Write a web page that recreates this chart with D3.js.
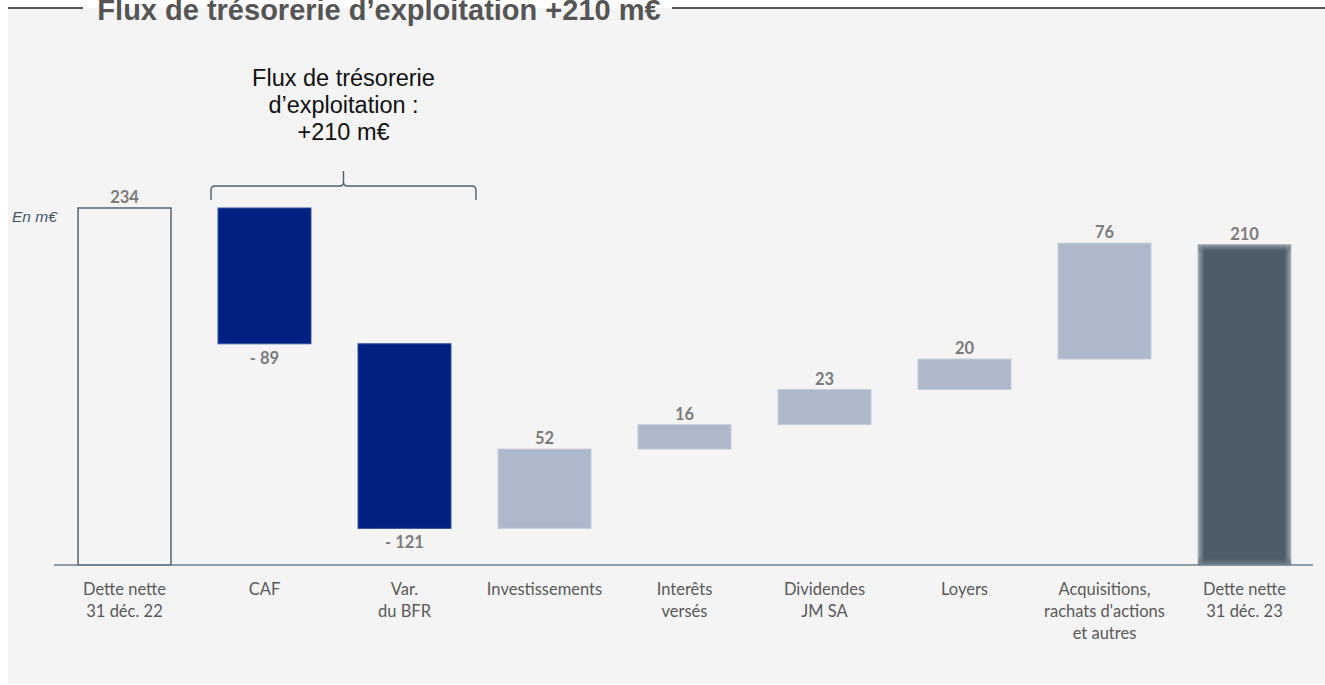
<!DOCTYPE html>
<html><head><meta charset="utf-8">
<script src="https://cdn.jsdelivr.net/npm/d3@7"></script>
<style>
html,body{margin:0;padding:0;background:#fff;}
svg{display:block;}
</style></head>
<body>
<svg id="chart" width="1325" height="685"></svg>
<script>
// ---- data ----
const categories = [
  ["Dette nette","31 déc. 22"],
  ["CAF"],
  ["Var.","du BFR"],
  ["Investissements"],
  ["Interêts","versés"],
  ["Dividendes","JM SA"],
  ["Loyers"],
  ["Acquisitions,","rachats d'actions","et autres"],
  ["Dette nette","31 déc. 23"]
];
const changes = [234, -89, -121, 52, 16, 23, 20, 76, 210];
const kinds = ["start","op","op","flow","flow","flow","flow","flow","total"];
const valueLabels = ["234","- 89","- 121","52","16","23","20","76","210"];
const titleText = "Flux de trésorerie d’exploitation +210 m€";
const noteLines = ["Flux de trésorerie","d’exploitation :","+210 m€"];
const unitLabel = "En m€";

// ---- build waterfall ----
let run = 0;
const bars = changes.map((v,i)=>{
  let y0,y1;
  if(kinds[i]==="start"||kinds[i]==="total"){ y0=0; y1=v; run=v; }
  else { y0=run; y1=run+v; run=y1; }
  return {i, v, kind:kinds[i], lo:Math.min(y0,y1), hi:Math.max(y0,y1), label:valueLabels[i], cat:categories[i]};
});

const svg = d3.select("#chart");
// panel
svg.append("rect").attr("x",8).attr("y",8).attr("width",1317).attr("height",676).attr("fill","#f4f4f4");

const x = d3.scaleBand().domain(d3.range(categories.length)).range([54.5,1314.5]).paddingInner(0.336).paddingOuter(0.168);
const y = d3.scaleLinear().domain([0,234]).range([565,208]);

const defs = svg.append("defs");
const g1 = defs.append("linearGradient").attr("id","gh").attr("x1","0").attr("x2","1").attr("y1","0").attr("y2","0");
[[0,"#9aa5ae"],[0.07,"#4c5c68"],[0.93,"#4c5c68"],[1,"#9aa5ae"]].forEach(s=>g1.append("stop").attr("offset",s[0]).attr("stop-color",s[1]));
const g2 = defs.append("linearGradient").attr("id","gv").attr("x1","0").attr("x2","0").attr("y1","0").attr("y2","1");
[[0,"#9aa5ae",1],[0.025,"#4c5c68",0],[0.975,"#4c5c68",0],[1,"#7d8994",1]].forEach(s=>g2.append("stop").attr("offset",s[0]).attr("stop-color",s[1]).attr("stop-opacity",s[2]));

const fills = {start:"none", op:"#002082", flow:"#adb9cb", total:"url(#gh)"};
const strokes = {start:"#5d6d7a", op:"#3350a0", flow:"#c4cdda", total:"#b3bcc4"};

svg.append("g").selectAll("rect.bar").data(bars).join("rect")
  .attr("class","bar")
  .attr("x",d=>x(d.i)).attr("width",x.bandwidth())
  .attr("y",d=>y(d.hi)).attr("height",d=>y(d.lo)-y(d.hi))
  .attr("fill",d=>fills[d.kind])
  .attr("stroke",d=>strokes[d.kind])
  .attr("stroke-width",d=>d.kind==="start"?1.6:1);
// vertical glow on total bar
svg.append("g").selectAll("rect.glow").data(bars.filter(d=>d.kind==="total")).join("rect")
  .attr("x",d=>x(d.i)).attr("width",x.bandwidth())
  .attr("y",d=>y(d.hi)).attr("height",d=>y(d.lo)-y(d.hi))
  .attr("fill","url(#gv)");

// baseline
svg.append("line").attr("x1",54).attr("x2",1313).attr("y1",y(0)).attr("y2",y(0))
  .attr("stroke","#6f7f8d").attr("stroke-width",1.6);

// value labels
svg.append("g").selectAll("text").data(bars).join("text")
  .attr("x",d=>x(d.i)+x.bandwidth()/2)
  .attr("y",d=> d.kind==="op" ? y(d.lo)+20 : y(d.hi)-5)
  .attr("text-anchor","middle")
  .attr("font-family","Lato, 'Open Sans', sans-serif").attr("font-weight","bold")
  .attr("font-size",16.5).attr("fill","#7b7b7b")
  .text(d=>d.label);

// category labels
const cl = svg.append("g").selectAll("text").data(bars).join("text")
  .attr("text-anchor","middle")
  .attr("font-family","Lato, 'Open Sans', sans-serif")
  .attr("font-size",16.5).attr("fill","#595959");
cl.each(function(d){
  const t = d3.select(this);
  d.cat.forEach((line,k)=>{
    t.append("tspan").attr("x",x(d.i)+x.bandwidth()/2).attr("y",595+k*22).text(line);
  });
});

// unit label
svg.append("text").attr("x",12).attr("y",222).attr("font-family","Liberation Sans, Arial, sans-serif")
  .attr("font-style","italic").attr("font-size",15.5).attr("fill","#44546a").text(unitLabel);

// bracket over op bars
const opBars = bars.filter(d=>d.kind==="op");
const bx0 = x(opBars[0].i)-7, bx1 = x(opBars[opBars.length-1].i)+x.bandwidth()+25;
const bm = (bx0+bx1)/2, by = 186;
const bp = d3.path();
bp.moveTo(bx0,200); bp.lineTo(bx0,190); bp.quadraticCurveTo(bx0,by,bx0+4,by);
bp.lineTo(bm-4,by); bp.quadraticCurveTo(bm,by,bm,by-4); bp.lineTo(bm,171);
bp.moveTo(bm,by-4); bp.quadraticCurveTo(bm,by,bm+4,by);
bp.lineTo(bx1-4,by); bp.quadraticCurveTo(bx1,by,bx1,190); bp.lineTo(bx1,200);
svg.append("path").attr("d",bp.toString()).attr("fill","none").attr("stroke","#4f5f6e").attr("stroke-width",1.4);

// note text
svg.append("g").selectAll("text").data(noteLines).join("text")
  .attr("x",bm).attr("y",(d,i)=>86+i*27)
  .attr("text-anchor","middle").attr("font-family","Liberation Sans, Arial, sans-serif")
  .attr("font-size",23.5).attr("fill","#111").text(d=>d);

// title with lines
svg.append("text").attr("x",379).attr("y",20).attr("text-anchor","middle")
  .attr("font-family","Liberation Sans, Arial, sans-serif").attr("font-weight","bold")
  .attr("font-size",29).attr("fill","#555").text(titleText);
svg.append("line").attr("x1",8).attr("x2",83).attr("y1",8).attr("y2",8).attr("stroke","#555").attr("stroke-width",2);
svg.append("line").attr("x1",672).attr("x2",1325).attr("y1",8).attr("y2",8).attr("stroke","#555").attr("stroke-width",2);
</script>
</body></html>
